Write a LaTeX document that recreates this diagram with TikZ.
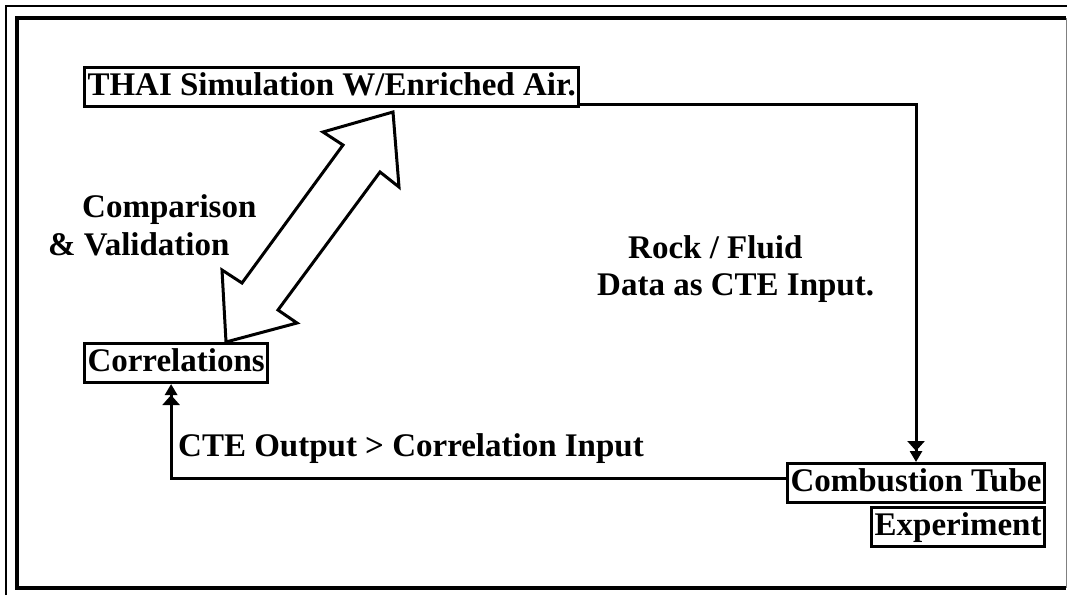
\documentclass[tikz,border=0pt]{standalone}
\usepackage{fontspec}
\setmainfont{Liberation Serif}
\usetikzlibrary{arrows.meta, positioning}

\begin{document}
\begin{tikzpicture}[
    x=1pt, y=-1pt,
    block/.style={draw, line width=3pt, inner xsep=3pt, inner ysep=4pt,
                  text height=24pt, text depth=7pt,
                  font=\fontsize{33}{38}\selectfont\bfseries},
    note/.style={inner sep=0pt, anchor=base west,
                 font=\fontsize{33}{38}\selectfont\bfseries},
    flow/.style={line width=3pt,
                 -{Triangle[width=17pt,length=10pt]Triangle[width=12pt,length=11pt]}}
  ]
  \useasboundingbox (0,0) rectangle (1067,595);

  % Frame
  \draw[line width=2pt] (6,595) -- (6,6) -- (1067,6);
  \draw[line width=4pt] (1066,18) -- (17,18) -- (17,588) -- (1066,588);
  \draw[line width=1pt, gray] (1066,18) -- (1066,588);

  % Boxes
  \node[block, anchor=west] (thai) at (83,87) {THAI Simulation W/Enriched Air.};
  \node[block, anchor=west] (corr) at (83,363) {Correlations};
  \node[block, anchor=east] (comb) at (1046,483) {Combustion Tube};
  \node[block, anchor=east] (expt) at (1046,527) {Experiment};

  % Labels
  \node[note] (cmpA) at (82,217) {Comparison};
  \node[note] (cmpB) at (48,255) {\& Validation};
  \node[note] (rock) at (628,258) {Rock / Fluid};
  \node[note] (data) at (597,295) {Data as CTE Input.};
  \node[note] (cte) at (178,456) {CTE Output > Correlation Input};

  % Hollow double arrow
  \draw[line width=3pt, line join=miter]
    (393,112) -- (323,132) -- (343,145) -- (242,283) -- (222,270)
    -- (226,342) -- (297,323) -- (278,310) -- (380,172) -- (399,187) -- cycle;

  % Connectors
  \draw[flow] ([yshift=-17pt]thai.east) -| (comb.north);
  \draw[flow] ([yshift=5pt]comb.west) -| ([xshift=-5pt]corr.south);

\end{tikzpicture}
\end{document}
